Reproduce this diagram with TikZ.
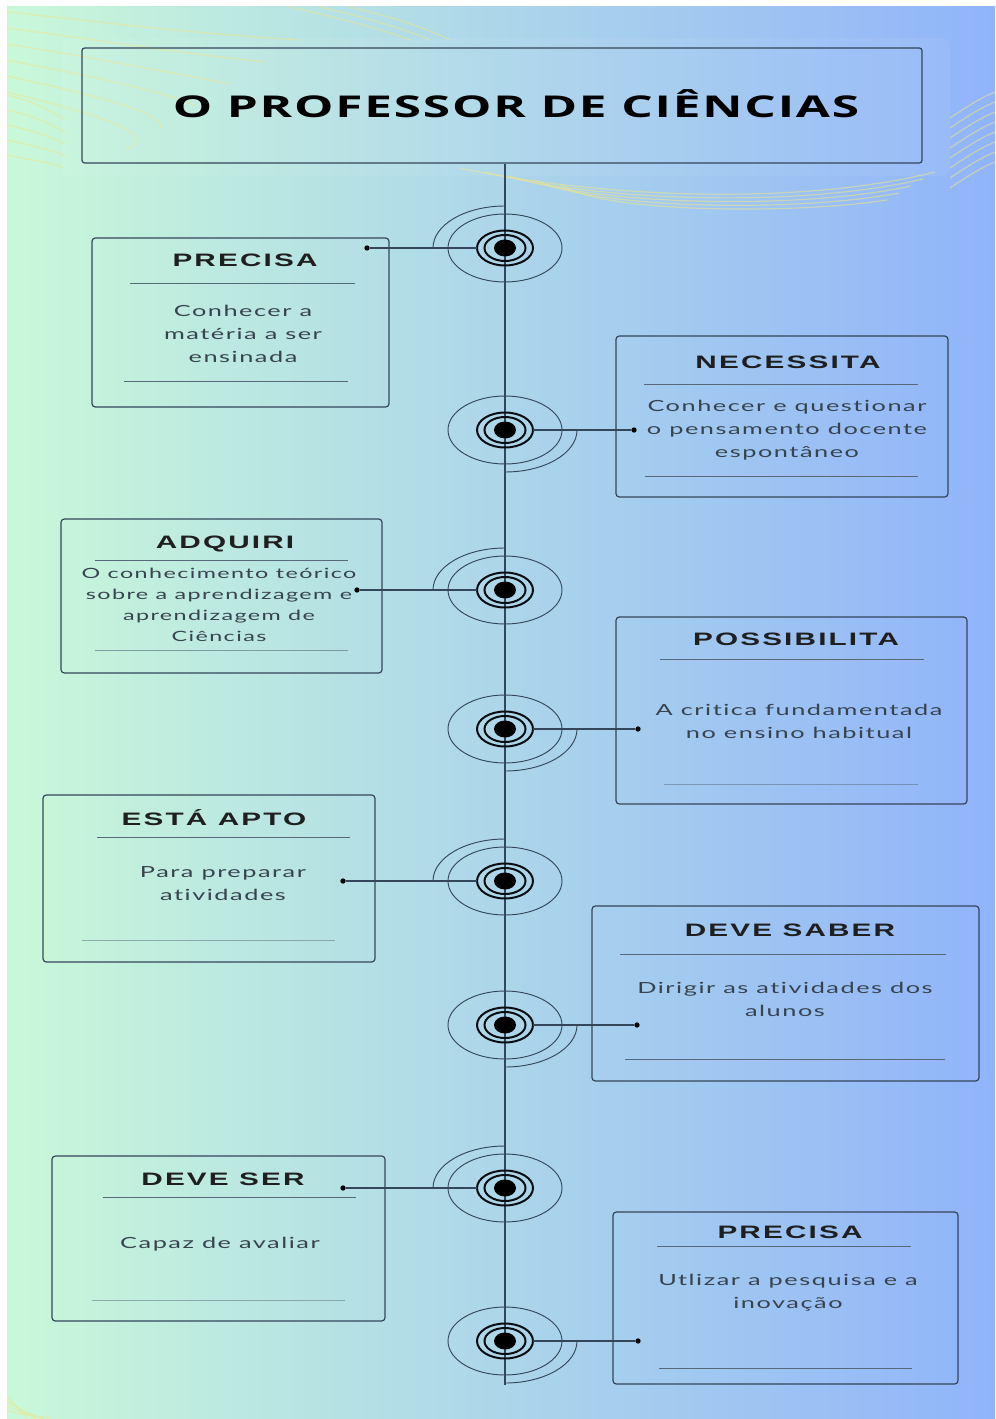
\documentclass[tikz,border=0pt]{standalone}
\usepackage{fontspec}
\setmainfont{Lato}
\newfontfamily\titlefont{Open Sans}[FakeStretch=1.65,LetterSpace=6]
\newfontfamily\headfont{Liberation Sans}[FakeStretch=1.65,LetterSpace=12]
\newfontfamily\bodyfont{Lato}[FakeStretch=1.65,LetterSpace=10,Ligatures=CommonOff]
\usetikzlibrary{shapes.geometric}
\definecolor{bgL}{HTML}{C9F8D9}
\definecolor{bgM}{HTML}{B3DFE6}
\definecolor{bgR}{HTML}{90B4FA}
\definecolor{ink}{HTML}{34465A}
\definecolor{rulec}{HTML}{56687A}
\definecolor{txt}{HTML}{37434F}
\definecolor{deco}{HTML}{EDE58A}
\tikzset{
 box/.style={draw=ink, line width=0.9pt, rounded corners=2.5pt, inner sep=0pt},
 headtxt/.style={font=\headfont\bfseries\fontsize{13.5}{16}\selectfont, text=black!88, inner sep=0pt},
 bodytxt/.style={font=\bodyfont\fontsize{11.5}{17.25}\selectfont, text=txt, align=center, inner sep=0pt},
 smallbody/.style={font=\bodyfont\fontsize{10.6}{15.75}\selectfont, text=txt, align=center, inner sep=0pt},
 rulel/.style={draw=rulec, line width=0.7pt},
 ringthin/.style={draw=ink, line width=0.7pt},
 ringthick/.style={draw=black!80!ink, line width=1.5pt},
 conn/.style={draw=ink, line width=0.8pt},
 dotn/.style={circle, fill=black, inner sep=0pt, minimum size=4pt},
 ringnode/.style={ellipse, inner sep=0pt, minimum width=42pt, minimum height=26.25pt},
 vline/.style={draw=ink, line width=0.9pt},
 decol/.style={draw=deco, line width=0.9pt, opacity=0.55},
}
\newcommand\target[3]{%
  \coordinate (#1) at (505,#2);
  \draw[ringthin] (#1) ellipse [x radius=57, y radius=34];
  \draw[ringthick] (#1) ellipse [x radius=28, y radius=17.5];
  \draw[ringthick] (#1) ellipse [x radius=20.5, y radius=13];
  \fill (#1) ellipse [x radius=11, y radius=8.5];
  \node[ringnode] (#1r) at (#1) {};
  \ifx L#3\relax
    \draw[ringthin] (#1) ++(0,-42) arc[start angle=270,end angle=180,x radius=72,y radius=42];
  \else
    \draw[ringthin] (#1) ++(72,0) arc[start angle=0,end angle=90,x radius=72,y radius=42];
  \fi
}
\begin{document}
\begin{tikzpicture}[x=0.75pt,y=-0.75pt]
\useasboundingbox (0,0) rectangle (995,1419);
\shade[left color=bgL, middle color=bgM, right color=bgR] (7,7) rectangle (995,1419);

% decorative faint lines
\foreach \i in {0,...,5}
  \draw[decol] (7,12+\i*16) .. controls (70,18+\i*18) and (170,32+\i*20) .. (300-\i*35,40+\i*22);
\foreach \i in {0,...,4}
  \draw[decol] (7,95+\i*15) .. controls (30,100+\i*15) and (50,110+\i*13) .. (65,120+\i*12);
\foreach \i in {0,...,2}
  \draw[decol] (290+\i*30,7) .. controls (320+\i*30,14) and (370+\i*25,25) .. (410+\i*20,40);
\foreach \i in {0,...,7}
  \draw[decol] (995,92+\i*10) .. controls (980,98+\i*10) and (965,108+\i*10) .. (950,118+\i*10);
\foreach \i in {0,...,4}
  \draw[decol] (460+\i*25,168+\i*4) .. controls (600,198+\i*4) and (800,206+\i*2) .. (935-\i*12,172+\i*7);
\foreach \i in {0,...,3}
  \draw[decol] (7,1396+\i*5) -- (28+\i*8,1419);

% title
\fill[white,opacity=0.06,rounded corners=6pt] (62,38) rectangle (950,176);
\node[box, rounded corners=2pt, minimum width=630pt, minimum height=86.25pt] (title) at (502,105.5) {};
\node[font=\titlefont\bfseries\fontsize{22.5}{26}\selectfont, inner sep=0pt] (titletext) at (516,104) {O PROFESSOR DE CIÊNCIAS};

% timeline
\coordinate (lineend) at (505,1385);
\draw[vline] (title.south -| lineend) -- (lineend);

\target{t1}{248}{L}
\target{t2}{430}{R}
\target{t3}{590}{L}
\target{t4}{729}{R}
\target{t5}{881}{L}
\target{t6}{1025}{R}
\target{t7}{1188}{L}
\target{t8}{1341}{R}

% box 1
\node[box, minimum width=222.75pt, minimum height=126.75pt] (b1) at (240.5,322.5) {};
\node[headtxt] (b1h) at (245,260) {PRECISA};
\draw[rulel] (130,283) -- (355,283);
\node[bodytxt] (b1b) at (243,334) {Conhecer a\\matéria a ser\\ensinada};
\draw[rulel] (124,381) -- (348,381);
\node[dotn] (d1) at (367,248) {};
\draw[conn] (t1r.west) -- (d1);

% box 2
\node[box, minimum width=249pt, minimum height=120.75pt] (b2) at (782,416.5) {};
\node[headtxt] (b2h) at (788,362) {NECESSITA};
\draw[rulel] (644,384) -- (918,384);
\node[bodytxt] (b2b) at (787,430) {Conhecer e questionar\\o pensamento docente\\espontâneo};
\draw[rulel] (645,476) -- (918,476);
\node[dotn] (d2) at (634,430) {};
\draw[conn] (t2r.east) -- (d2);

% box 3
\node[box, minimum width=240.75pt, minimum height=115.5pt] (b3) at (221.5,596) {};
\node[headtxt] (b3h) at (225,544) {ADQUIRI};
\draw[rulel] (95,560) -- (348,560);
\node[smallbody] (b3b) at (219,604.5) {O conhecimento teórico\\sobre a aprendizagem e\\aprendizagem de\\Ciências};
\draw[rulel,draw opacity=0.6] (95,650) -- (348,650);
\node[dotn] (d3) at (357,590) {};
\draw[conn] (t3r.west) -- (d3);

% box 4
\node[box, minimum width=263.25pt, minimum height=140.25pt] (b4) at (791.5,710.5) {};
\node[headtxt] (b4h) at (796,639) {POSSIBILITA};
\draw[rulel] (660,659) -- (924,659);
\node[bodytxt] (b4b) at (799,721.5) {A critica fundamentada\\no ensino habitual};
\draw[rulel,draw opacity=0.5] (664,784) -- (918,784);
\node[dotn] (d4) at (638,729) {};
\draw[conn] (t4r.east) -- (d4);

% box 5
\node[box, minimum width=249pt, minimum height=125.25pt] (b5) at (209,878.5) {};
\node[headtxt] (b5h) at (214,818) {ESTÁ APTO};
\draw[rulel] (97,837) -- (350,837);
\node[bodytxt] (b5b) at (223,883.5) {Para preparar\\atividades};
\draw[rulel,draw opacity=0.5] (82,940) -- (335,940);
\node[dotn] (d5) at (343,881) {};
\draw[conn] (t5r.west) -- (d5);

% box 6
\node[box, minimum width=290.25pt, minimum height=131.25pt] (b6) at (785.5,993.5) {};
\node[headtxt] (b6h) at (790,930) {DEVE SABER};
\draw[rulel] (620,954) -- (946,954);
\node[bodytxt] (b6b) at (785,999.5) {Dirigir as atividades dos\\alunos};
\draw[rulel] (625,1059) -- (945,1059);
\node[dotn] (d6) at (637,1025) {};
\draw[conn] (t6r.east) -- (d6);

% box 7
\node[box, minimum width=249.75pt, minimum height=123.75pt] (b7) at (218.5,1238.5) {};
\node[headtxt] (b7h) at (223,1179) {DEVE SER};
\draw[rulel] (103,1197) -- (356,1197);
\node[bodytxt] (b7b) at (220,1244) {Capaz de avaliar};
\draw[rulel,draw opacity=0.5] (92,1300) -- (345,1300);
\node[dotn] (d7) at (343,1188) {};
\draw[conn] (t7r.west) -- (d7);

% box 8
\node[box, minimum width=258.75pt, minimum height=129pt] (b8) at (785.5,1298) {};
\node[headtxt] (b8h) at (790,1232) {PRECISA};
\draw[rulel] (657,1246) -- (911,1246);
\node[bodytxt] (b8b) at (788,1292.5) {Utlizar a pesquisa e a\\inovação};
\draw[rulel] (659,1368) -- (912,1368);
\node[dotn] (d8) at (638,1341) {};
\draw[conn] (t8r.east) -- (d8);
\end{tikzpicture}
\end{document}
